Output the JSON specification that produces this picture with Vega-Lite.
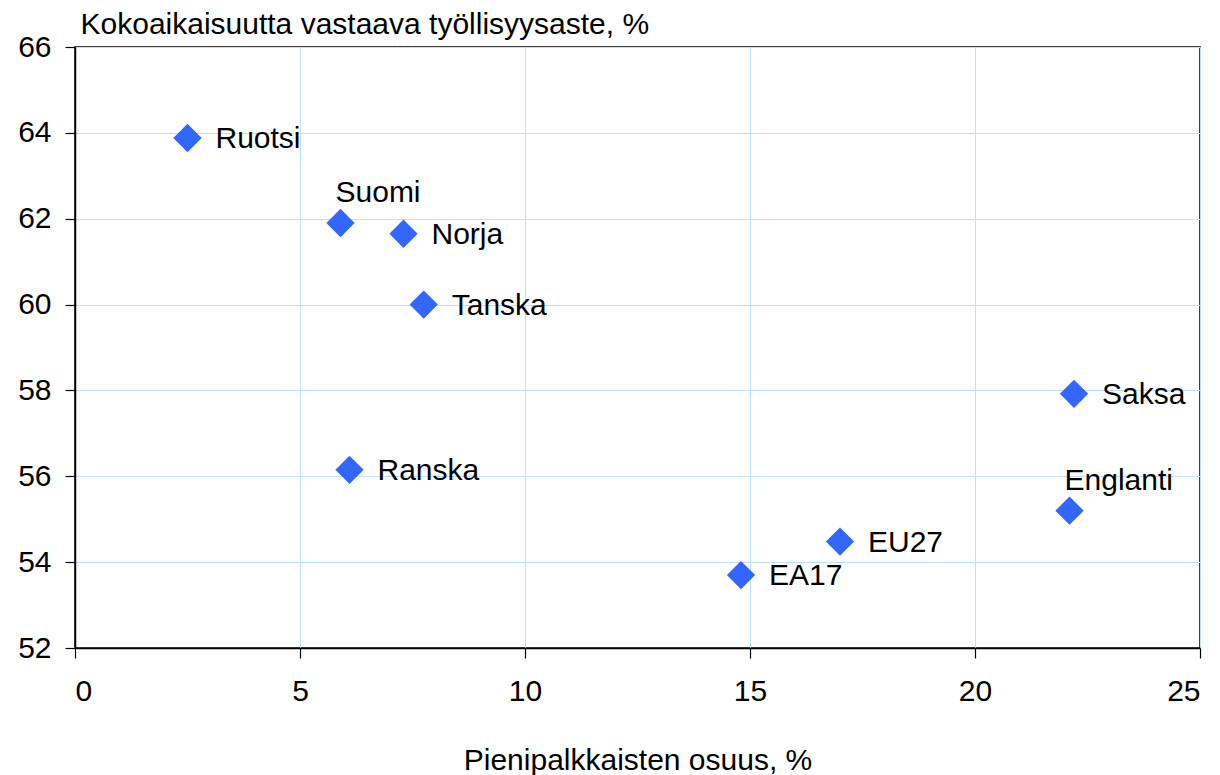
{
  "$schema": "https://vega.github.io/schema/vega-lite/v6.json",
  "autosize": "none",
  "width": 1125,
  "height": 601,
  "padding": {"left": 75, "top": 47, "right": 20, "bottom": 127},
  "background": "white",
  "config": {
    "font": "Liberation Sans",
    "view": {"stroke": "black", "strokeWidth": 1.5}
  },
  "data": {
    "values": [
      {"maa": "Ruotsi", "x": 2.5, "y": 63.88, "pos": "right"},
      {"maa": "Suomi", "x": 5.9, "y": 61.9, "pos": "above"},
      {"maa": "Norja", "x": 7.3, "y": 61.65, "pos": "right"},
      {"maa": "Tanska", "x": 7.75, "y": 60.0, "pos": "right"},
      {"maa": "Ranska", "x": 6.1, "y": 56.15, "pos": "right"},
      {"maa": "Saksa", "x": 22.2, "y": 57.92, "pos": "right"},
      {"maa": "Englanti", "x": 22.1, "y": 55.2, "pos": "above"},
      {"maa": "EU27", "x": 17.0, "y": 54.48, "pos": "right"},
      {"maa": "EA17", "x": 14.8, "y": 53.7, "pos": "right"}
    ]
  },
  "encoding": {
    "x": {
      "field": "x", "type": "quantitative",
      "scale": {"domain": [0, 25], "nice": false, "zero": false},
      "axis": {
        "values": [0, 5, 10, 15, 20, 25],
        "title": "Pienipalkkaisten osuus, %",
        "titleFont": "Liberation Sans", "titleFontSize": 30, "titleFontWeight": "normal", "titleColor": "black",
        "titlePadding": 39,
        "labelFontSize": 30, "labelColor": "black", "labelPadding": 18,
        "domainColor": "black", "domainWidth": 1.5,
        "tickColor": "black", "tickSize": 10, "tickWidth": 1.2,
        "gridColor": "#BFDFFF", "gridWidth": 1
      }
    },
    "y": {
      "field": "y", "type": "quantitative",
      "scale": {"domain": [52, 66], "nice": false, "zero": false},
      "axis": {
        "values": [52, 54, 56, 58, 60, 62, 64, 66],
        "title": "Kokoaikaisuutta vastaava työllisyysaste, %",
        "titleAngle": 0, "titleAlign": "left", "titleBaseline": "alphabetic",
        "titleX": 5, "titleY": -14,
        "titleFont": "Liberation Sans", "titleFontSize": 30, "titleFontWeight": "normal", "titleColor": "black",
        "labelFontSize": 30, "labelColor": "black", "labelPadding": 14,
        "domainColor": "black", "domainWidth": 1.5,
        "tickColor": "black", "tickSize": 10, "tickWidth": 1.2,
        "gridColor": "#BFDFFF", "gridWidth": 1
      }
    }
  },
  "layer": [
    {
      "mark": {"type": "point", "shape": "diamond", "filled": true, "size": 800, "color": "#3366FF", "opacity": 1}
    },
    {
      "transform": [{"filter": "datum.pos === 'right'"}],
      "mark": {"type": "text", "align": "left", "baseline": "middle", "dx": 28, "dy": 1, "fontSize": 30, "color": "black"},
      "encoding": {"text": {"field": "maa"}}
    },
    {
      "transform": [{"filter": "datum.pos === 'above'"}],
      "mark": {"type": "text", "align": "left", "baseline": "alphabetic", "dx": -5, "dy": -21, "fontSize": 30, "color": "black"},
      "encoding": {"text": {"field": "maa"}}
    }
  ]
}
